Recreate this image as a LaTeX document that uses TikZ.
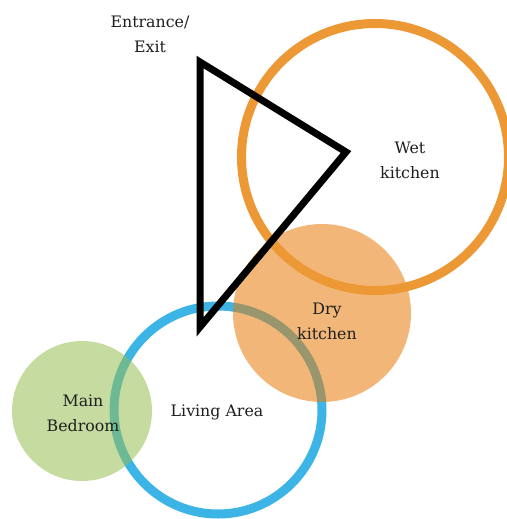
\documentclass[tikz,border=0pt]{standalone}
\usepackage{fontspec}
\setmainfont{DejaVu Serif}
\usepackage{xcolor}
\usepackage{tikz}
\usetikzlibrary{positioning}
\definecolor{wetorange}{RGB}{236,152,52}
\definecolor{dryorange}{RGB}{231,124,10}
\definecolor{livingblue}{RGB}{60,180,230}
\definecolor{bedgreen}{RGB}{151,190,82}
\definecolor{labeltext}{RGB}{30,30,30}
\tikzset{
    ring/.style={circle, inner sep=0pt, line width=9pt},
    room/.style={circle, inner sep=0pt, fill opacity=0.55},
    tag/.style={font=\fontsize{15.8}{25}\selectfont, text=labeltext, align=center, inner sep=0pt},
    door/.style={draw=black, line width=7pt}
}

\begin{document}
\begin{tikzpicture}[x=1pt,y=-1pt]
\useasboundingbox (0,0) rectangle (506,519);
% zones
\node[ring, draw=livingblue, minimum size=208pt] (living) at (218,410) {};
\node[room, fill=bedgreen, minimum size=140pt] (bedroom) at (82,411) {};
\node[room, fill=dryorange, minimum size=178pt] (dry) at (322,313) {};
\node[ring, draw=wetorange, minimum size=267pt] (wet) at (375,157) {};
% entrance triangle
\coordinate (doortop) at (200,62);
\coordinate (doortip) at (346,152);
\coordinate (doorfoot) at (200,327);
\draw[door] (doortop) -- (doortip) -- (doorfoot) -- cycle;
% labels
\node[tag] (entrancetag) at (150,34) {Entrance/\\Exit};
\node[tag] (wettag) at (410,160) {Wet\\kitchen};
\node[tag] (drytag) at (327,321) {Dry\\kitchen};
\node[tag] (livingtag) at (217,412) {Living Area};
\node[tag] (bedroomtag) at (83,413) {Main\\Bedroom};
\end{tikzpicture}
\end{document}
